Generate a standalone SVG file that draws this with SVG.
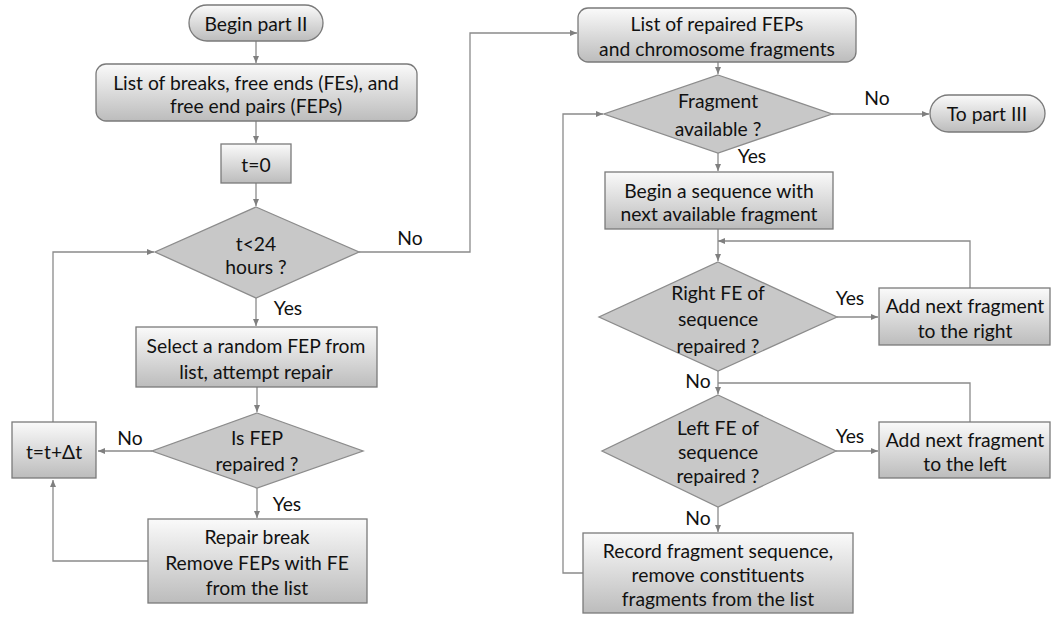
<svg xmlns="http://www.w3.org/2000/svg" width="1052" height="617" viewBox="0 0 1052 617">
<defs>
<linearGradient id="g" x1="0" y1="0" x2="0" y2="1">
<stop offset="0" stop-color="#fafafa"/>
<stop offset="1" stop-color="#bcbcbc"/>
</linearGradient>
<marker id="a" markerWidth="8" markerHeight="8" refX="7" refY="4" orient="auto" markerUnits="userSpaceOnUse">
<path d="M0,1 L7,4 L0,7 z" fill="#7f7f7f"/>
</marker>
</defs>
<style>
.b{fill:url(#g);stroke:#7a7a7a;stroke-width:1.3}
.d{fill:#c8c8c8;stroke:#8c8c8c;stroke-width:1.3}
.c{fill:none;stroke:#8a8a8a;stroke-width:1.3}
.ar{marker-end:url(#a)}
text{font-family:Lato,"Liberation Sans",sans-serif;font-size:19.3px;fill:#111;text-anchor:middle;dominant-baseline:central}
</style>
<rect width="1052" height="617" fill="#fff"/>
<g id="connectors">
<path class="c ar" d="M256,41 V63"/>
<path class="c ar" d="M256,121 V143"/>
<path class="c ar" d="M256,183 V206"/>
<path class="c ar" d="M256,298 V326"/>
<path class="c ar" d="M257,387 V412"/>
<path class="c ar" d="M152,451 H98"/>
<path class="c ar" d="M257,488 V518"/>
<path class="c ar" d="M148,561 H53 V480"/>
<path class="c ar" d="M53,422 V252 H154"/>
<path class="c ar" d="M359,252 H470 V33 H577"/>
<path class="c ar" d="M718,62 V74"/>
<path class="c ar" d="M832,114 H929"/>
<path class="c ar" d="M718,153 V171"/>
<path class="c ar" d="M718,229 V261"/>
<path class="c ar" d="M970,288 V241 H718"/>
<path class="c ar" d="M837,317 H878"/>
<path class="c ar" d="M718,371 V394"/>
<path class="c" d="M970,422 V383 H718"/>
<path class="c ar" d="M836,451 H878"/>
<path class="c ar" d="M718,507 V532"/>
<path class="c ar" d="M583,573 H563 V114 H603"/>
</g>
<g id="labels">
<text x="410" y="237">No</text>
<text x="288" y="307">Yes</text>
<text x="130" y="437">No</text>
<text x="287" y="503">Yes</text>
<text x="877" y="97">No</text>
<text x="752" y="155">Yes</text>
<text x="850" y="297">Yes</text>
<text x="698" y="380">No</text>
<text x="850" y="435">Yes</text>
<text x="698" y="517">No</text>
</g>
<g id="begin">
<rect class="b" x="189" y="5" width="134" height="36" rx="18"/>
<text x="256" y="23">Begin part II</text>
</g>
<g id="listbreaks">
<rect class="b" x="96" y="64" width="321" height="57" rx="10"/>
<text x="256" y="82">List of breaks, free ends (FEs), and</text>
<text x="256" y="105">free end pairs (FEPs)</text>
</g>
<g id="t0">
<rect class="b" x="221" y="144" width="70" height="39"/>
<text x="256" y="164">t=0</text>
</g>
<g id="t24">
<polygon class="d" points="256,207 359,252 256,298 155,252"/>
<text x="256" y="243">t&lt;24</text>
<text x="256" y="266">hours ?</text>
</g>
<g id="select">
<rect class="b" x="136" y="327" width="241" height="60"/>
<text x="256" y="345">Select a random FEP from</text>
<text x="256" y="371">list, attempt repair</text>
</g>
<g id="isfep">
<polygon class="d" points="257,413 363,451 257,488 152,451"/>
<text x="257" y="437">Is FEP</text>
<text x="257" y="463">repaired ?</text>
</g>
<g id="tinc">
<rect class="b" x="12" y="422" width="84" height="56"/>
<text x="54" y="451">t=t+Δt</text>
</g>
<g id="repair">
<rect class="b" x="148" y="519" width="219" height="84"/>
<text x="257" y="536">Repair break</text>
<text x="257" y="562">Remove FEPs with FE</text>
<text x="257" y="587">from the list</text>
</g>
<g id="listrepaired">
<rect class="b" x="578" y="8" width="278" height="54" rx="10"/>
<text x="717" y="23">List of repaired FEPs</text>
<text x="717" y="48">and chromosome fragments</text>
</g>
<g id="fragavail">
<polygon class="d" points="718,75 832,114 718,153 604,114"/>
<text x="718" y="100">Fragment</text>
<text x="718" y="128">available ?</text>
</g>
<g id="part3">
<rect class="b" x="930" y="95" width="115" height="37" rx="18.5"/>
<text x="987" y="113">To part III</text>
</g>
<g id="beginseq">
<rect class="b" x="605" y="172" width="228" height="57"/>
<text x="719" y="190">Begin a sequence with</text>
<text x="719" y="213">next available fragment</text>
</g>
<g id="rightfe">
<polygon class="d" points="718,262 837,317 718,371 599,317"/>
<text x="718" y="292">Right FE of</text>
<text x="718" y="318">sequence</text>
<text x="718" y="345">repaired ?</text>
</g>
<g id="addright">
<rect class="b" x="879" y="288" width="171" height="57"/>
<text x="965" y="305">Add next fragment</text>
<text x="965" y="330">to the right</text>
</g>
<g id="leftfe">
<polygon class="d" points="718,395 836,451 718,507 602,451"/>
<text x="718" y="427">Left FE of</text>
<text x="718" y="451">sequence</text>
<text x="718" y="475">repaired ?</text>
</g>
<g id="addleft">
<rect class="b" x="879" y="422" width="171" height="56"/>
<text x="965" y="439">Add next fragment</text>
<text x="965" y="463">to the left</text>
</g>
<g id="record">
<rect class="b" x="583" y="533" width="270" height="80"/>
<text x="718" y="550">Record fragment sequence,</text>
<text x="718" y="574">remove constituents</text>
<text x="718" y="598">fragments from the list</text>
</g>
</svg>
